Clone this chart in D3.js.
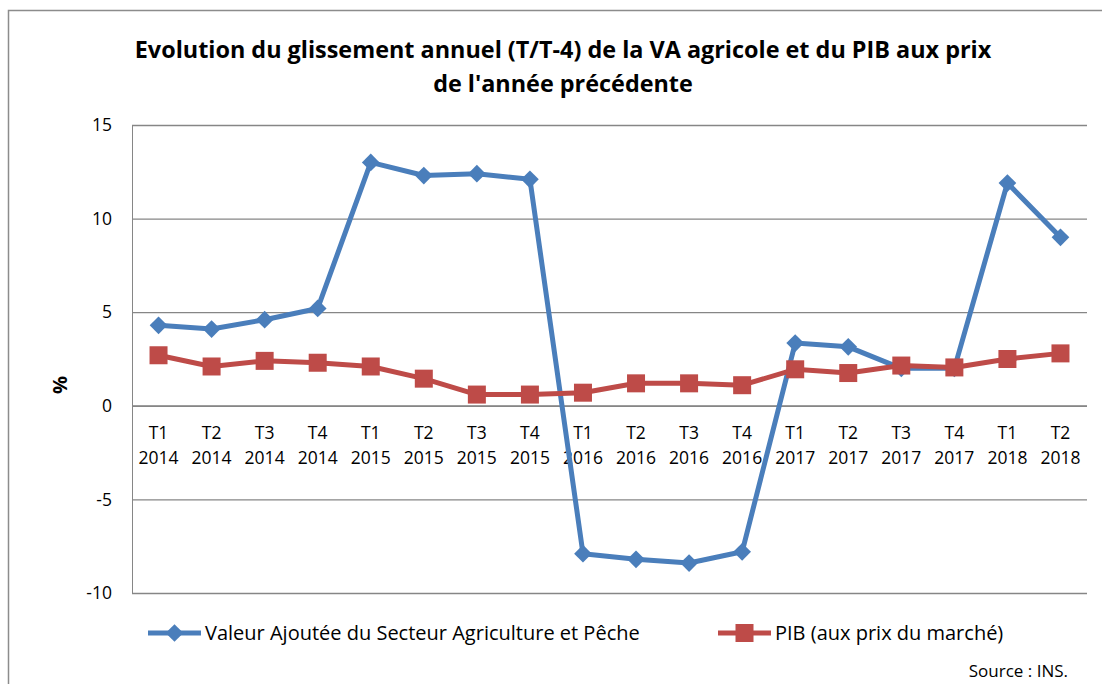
<!DOCTYPE html>
<html><head><meta charset="utf-8">
<script src="https://cdn.jsdelivr.net/npm/d3@7"></script>
<style>body{margin:0;background:#fff;} text{font-family:"Open Sans", sans-serif;}</style>
</head><body><svg id="c" width="1102" height="684"></svg>
<script>
const quarters = ["T1","T2","T3","T4","T1","T2","T3","T4","T1","T2","T3","T4","T1","T2","T3","T4","T1","T2"];
const years = ["2014","2014","2014","2014","2015","2015","2015","2015","2016","2016","2016","2016","2017","2017","2017","2017","2018","2018"];
const vaValues = [4.3,4.1,4.6,5.2,13.0,12.3,12.4,12.1,-7.9,-8.2,-8.4,-7.8,3.35,3.15,2.0,2.0,11.9,9.0];
const pibValues = [2.7,2.1,2.4,2.3,2.1,1.45,0.6,0.6,0.7,1.2,1.2,1.1,1.95,1.75,2.15,2.05,2.5,2.8];
const yTicks = [-10,-5,0,5,10,15];
const seriesNames = ["Valeur Ajoutée du Secteur Agriculture et Pêche","PIB (aux prix du marché)"];
const titleLines = ["Evolution du glissement annuel (T/T-4) de la VA agricole et du PIB aux prix","de l'année précédente"];

const svg = d3.select("#c");
const L=132,R=1087,T=125,B=593;
const cats = d3.range(quarters.length);
const x = d3.scaleBand().domain(cats).range([L,R]);
const y = d3.scaleLinear().domain([-10,15]).range([B,T]);
const FF = "'Open Sans', sans-serif";

// outer border
svg.append("path").attr("d",`M8.5,684 V10.5 H1102`).attr("fill","none").attr("stroke","#8c8c8c").attr("stroke-width",1.5);

// title
svg.append("g").selectAll("text").data(titleLines).join("text")
  .attr("x",563).attr("y",(d,i)=>58+i*34).attr("text-anchor","middle")
  .attr("font-weight","bold").attr("font-size",23.4).attr("fill","#000").text(d=>d);

// grid
const yAxis = d3.axisLeft(y).tickValues(yTicks).tickSize(-(R-L)).tickFormat(d=>String(d));
const gy = svg.append("g").attr("transform",`translate(${L},0)`).call(yAxis);
gy.select(".domain").attr("stroke","#868686");
gy.selectAll(".tick line").attr("stroke","#868686").attr("stroke-width",1.3);
gy.selectAll(".tick text").attr("x",-20).attr("font-size",17.5).attr("fill","#000")
  .style("font-family",FF);

svg.append("line").attr("x1",L).attr("x2",R).attr("y1",y(0)).attr("y2",y(0)).attr("stroke","#868686").attr("stroke-width",1.3);

// x labels
const xl = svg.append("g");
cats.forEach(i=>{
  const t = xl.append("text").attr("x",x(i)+x.bandwidth()/2).attr("text-anchor","middle")
    .attr("font-size",17.5).attr("fill","#000");
  t.append("tspan").attr("x",x(i)+x.bandwidth()/2).attr("y",y(0)+33).text(quarters[i]);
  t.append("tspan").attr("x",x(i)+x.bandwidth()/2).attr("y",y(0)+58).text(years[i]);
});

// y label
svg.append("text").attr("transform",`translate(67,385) rotate(-90)`).attr("text-anchor","middle")
  .attr("font-weight","bold").attr("font-size",20).text("%");

const cx = i=>x(i)+x.bandwidth()/2;
const line = d3.line().x((d,i)=>cx(i)).y(d=>y(d));
const blue="#4a7ebb", red="#be4b48";

svg.append("path").datum(vaValues).attr("d",line).attr("fill","none").attr("stroke",blue).attr("stroke-width",5).attr("stroke-linejoin","round");
svg.append("g").selectAll("path").data(vaValues).join("path")
  .attr("d",d3.symbol(d3.symbolDiamond2,200)).attr("transform",(d,i)=>`translate(${cx(i)},${y(d)})`).attr("fill",blue);

svg.append("path").datum(pibValues).attr("d",line).attr("fill","none").attr("stroke",red).attr("stroke-width",5).attr("stroke-linejoin","round");
svg.append("g").selectAll("rect").data(pibValues).join("rect")
  .attr("x",(d,i)=>cx(i)-9).attr("y",d=>y(d)-9).attr("width",18).attr("height",18).attr("fill",red);

// legend
const lg = svg.append("g");
lg.append("line").attr("x1",148).attr("x2",201).attr("y1",633).attr("y2",633).attr("stroke",blue).attr("stroke-width",5);
lg.append("path").attr("d",d3.symbol(d3.symbolDiamond2,200)).attr("transform","translate(174.5,633)").attr("fill",blue);
lg.append("text").attr("x",205).attr("y",640).attr("font-size",20).text(seriesNames[0]);
lg.append("line").attr("x1",718).attr("x2",771).attr("y1",633).attr("y2",633).attr("stroke",red).attr("stroke-width",5);
lg.append("rect").attr("x",735.5).attr("y",624).attr("width",18).attr("height",18).attr("fill",red);
lg.append("text").attr("x",775).attr("y",640).attr("font-size",20).text(seriesNames[1]);

svg.append("text").attr("x",1068).attr("y",677).attr("text-anchor","end").attr("font-size",17).text("Source : INS.");
</script></body></html>
